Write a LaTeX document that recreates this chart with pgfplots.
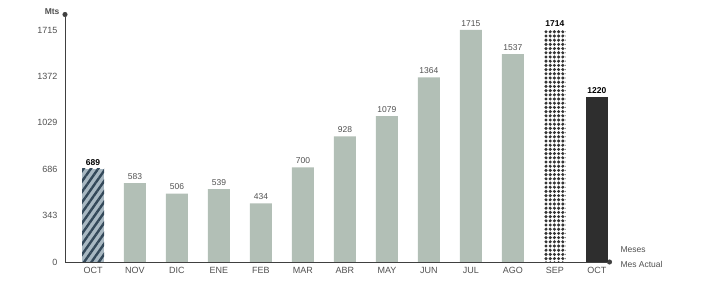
\documentclass[border=0pt]{standalone}
\usepackage{pgfplots}
\pgfplotsset{compat=1.18}
\usepackage{fontspec}
\setmainfont{Liberation Sans}
\usetikzlibrary{patterns,patterns.meta,arrows.meta}
\definecolor{barg}{HTML}{B2BFB6}
\definecolor{stripe}{HTML}{34495A}
\definecolor{stripebg}{HTML}{A8B8C2}
\definecolor{axisc}{HTML}{404040}
\definecolor{txt}{HTML}{505050}
\begin{document}
\begin{tikzpicture}
\useasboundingbox (0,0) rectangle (704pt,288pt);
\begin{axis}[
  at={(65pt,26pt)}, anchor=south west,
  scale only axis, width=547pt, height=250pt,
  ymin=0, ymax=1848, xmin=-0.667, xmax=12.36,
  axis x line=bottom, axis y line=left,
  axis line style={axisc, line width=0.9pt, -{Circle[length=5pt]}},
  ytick={0,343,686,1029,1372,1715},
  xtick={0,...,12},
  xticklabels={OCT,NOV,DIC,ENE,FEB,MAR,ABR,MAY,JUN,JUL,AGO,SEP,OCT},
  major tick length=0pt,
  tick label style={font=\fontsize{9}{10}\selectfont, text=txt},
  /pgf/number format/assume math mode=true,
  /pgf/number format/1000 sep={},
  yticklabel style={xshift=-4pt},
  xticklabel style={yshift=-2pt},
  ybar, bar width=22pt, bar shift=0pt,
  nodes near coords,
  nodes near coords style={font=\fontsize{8.5}{9}\selectfont, text=txt, /pgf/number format/1000 sep={}},
  clip=false,
]
\addplot[draw=none, fill=stripebg, postaction={pattern={Lines[angle=55,distance=6pt,line width=2.4pt]}, pattern color=stripe},
  nodes near coords style={font=\bfseries\fontsize{8.5}{9}\selectfont, text=black}]
  coordinates {(0,689)};
\addplot[draw=none, fill=barg] coordinates {
  (1,583) (2,506) (3,539) (4,434) (5,700) (6,928) (7,1079) (8,1364) (9,1715) (10,1537)};
\addplot[draw=none, fill=white, postaction={pattern={Dots[radius=1.7pt,distance=4.2pt]}, pattern color=black!80},
  nodes near coords style={font=\bfseries\fontsize{8.5}{9}\selectfont, text=black}]
  coordinates {(11,1714)};
\addplot[draw=none, fill=black!82,
  nodes near coords style={font=\bfseries\fontsize{8.5}{9}\selectfont, text=black}]
  coordinates {(12,1220)};
\end{axis}
\node[anchor=east, font=\bfseries\fontsize{8.5}{9}\selectfont, text=txt] at (63pt,276pt) {Mts};
\node[anchor=west, font=\fontsize{8.5}{9}\selectfont, text=txt] at (617pt,38pt) {Meses};
\node[anchor=west, font=\fontsize{8.5}{9}\selectfont, text=txt] at (617pt,24pt) {Mes Actual};
\end{tikzpicture}
\end{document}
